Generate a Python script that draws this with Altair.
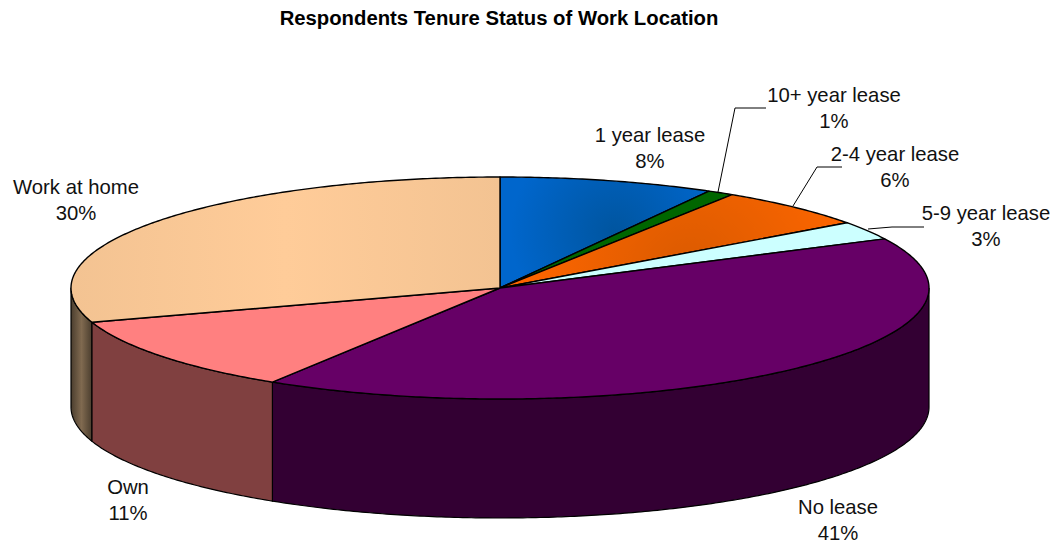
import math
import altair as alt
import pandas as pd

# ---- chart values
names = ["1 year lease", "10+ year lease", "2-4 year lease", "5-9 year lease", "No lease", "Own", "Work at home"]
shares = [8.1, 1.0, 5.9, 2.7, 41.2, 11.1, 30.0]
pct_labels = ["8%", "1%", "6%", "3%", "41%", "11%", "30%"]

# ---- styling
top_solid = ["#0066CC", "#006600", "#FF6600", "#CCFFFF", "#660066", "#FF8080", "#FFCC99"]
side_solid = ["#003366", "#003300", "#803300", "#668080", "#330033", "#804040", "#806A50"]
FONT = "Liberation Sans"
CX, CY, RX, RY, DEPTH = 500.0, 288.0, 429.0, 111.0, 119.0
W, H = 1043, 534

x_scale = alt.Scale(domain=[8, 8 + W], range=[0, W], nice=False, zero=False)
y_scale = alt.Scale(domain=[8 + H, 8], range=[H, 0], nice=False, zero=False)
X = alt.X("x:Q", scale=x_scale, axis=None)
Y = alt.Y("y:Q", scale=y_scale, axis=None)


def pt(t, dy=0.0):
    return CX + RX * math.sin(t), CY - RY * math.cos(t) + dy


def arc(a, b, dy=0.0):
    n = max(2, int(abs(b - a) / 0.01))
    return [pt(a + (b - a) * i / n, dy) for i in range(n + 1)]


def poly(points, fill, sw=1.3):
    df = pd.DataFrame(points, columns=["x", "y"])
    df["i"] = range(len(df))
    return alt.Chart(df).mark_line(
        fill=fill, stroke="black", strokeWidth=sw, strokeJoin="round", clip=False
    ).encode(x=X, y=Y, order=alt.Order("i:Q"))


def stops(*pairs):
    return [alt.GradientStop(offset=o, color=c) for o, c in pairs]


def hgrad(edge, mid):
    return alt.LinearGradient(gradient="linear", x1=0, x2=1, y1=0, y2=0,
                              stops=stops((0, edge), (0.5, mid), (1, edge)))


def rgrad(centre, edge, fx=0.5, fy=0.5):
    return alt.RadialGradient(gradient="radial", x1=fx, y1=fy, r1=0, x2=fx, y2=fy, r2=0.5,
                              stops=stops((0, centre), (1, edge)))


top_fill = list(top_solid)
top_fill[0] = rgrad("#00559F", "#0066CC", 0.55, 0.5)
top_fill[2] = rgrad("#D95A00", "#FF6600", 0.55, 0.6)
top_fill[6] = hgrad("#F3C392", "#FFCC99")

side_fill = list(side_solid)
side_fill[6] = hgrad("#4A3D2E", "#806A50")

total = sum(shares)
edges = [0.0]
for s in shares:
    edges.append(edges[-1] + s / total * 2 * math.pi)

layers = []
# walls (only the front half of the rim is visible)
for i, (a, b) in enumerate(zip(edges[:-1], edges[1:])):
    lo, hi = max(a, math.pi / 2), min(b, 3 * math.pi / 2)
    if lo < hi:
        pts = arc(lo, hi) + arc(hi, lo, DEPTH)
        pts.append(pts[0])
        layers.append((lo, poly(pts, side_fill[i], 1.2)))
layers = [l for _, l in sorted(layers, key=lambda p: -abs(p[0] - math.pi))]

# top faces
for i, (a, b) in enumerate(zip(edges[:-1], edges[1:])):
    pts = [(CX, CY)] + arc(a, b) + [(CX, CY)]
    layers.append(poly(pts, top_fill[i], 1.4))

# leader lines (rim end, elbow, label end)
leaders = [
    [(718, 192), (735, 108), (766, 108)],
    [(793, 206), (817, 167), (842, 167)],
    [(868, 229), (892, 227), (924, 227)],
]
for seg in leaders:
    d = pd.DataFrame(seg, columns=["x", "y"])
    d["i"] = range(len(d))
    layers.append(alt.Chart(d).mark_line(stroke="black", strokeWidth=1).encode(x=X, y=Y, order=alt.Order("i:Q")))

# labels
label_xy = [(650, 136), (834, 96), (895, 155), (986, 214), (838, 508), (128, 488), (76, 188)]
LINE = 25.5
rows = []
for n, p, (lx, ly) in zip(names, pct_labels, label_xy):
    rows.append({"x": lx, "y": ly, "t": n})
    rows.append({"x": lx, "y": ly + LINE, "t": p})
layers.append(
    alt.Chart(pd.DataFrame(rows)).mark_text(font=FONT, fontSize=20.3, color="#111111", align="center", baseline="middle")
    .encode(x=X, y=Y, text="t:N")
)
layers.append(
    alt.Chart(pd.DataFrame([{"x": 499, "y": 19, "t": "Respondents Tenure Status of Work Location"}]))
    .mark_text(font=FONT, fontSize=20.3, fontWeight="bold", color="black", align="center", baseline="middle")
    .encode(x=X, y=Y, text="t:N")
)

chart = alt.layer(*layers).properties(
    width=W, height=H, padding=0, background="white", autosize=alt.AutoSizeParams(type="none")
).configure_view(stroke=None)
chart.save("out.html", embed_options={"renderer": "svg", "actions": False})
